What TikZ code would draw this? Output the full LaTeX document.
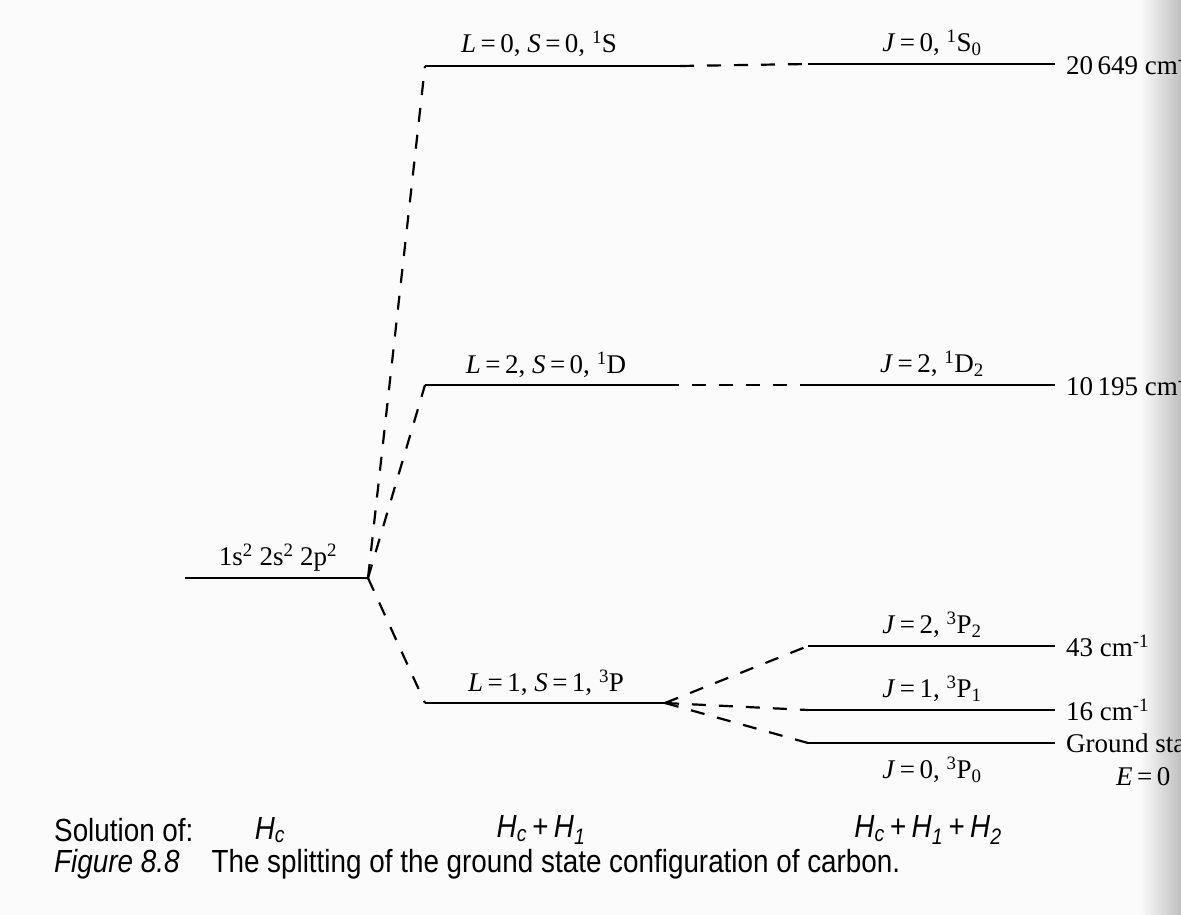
\documentclass[tikz,border=0pt]{standalone}
\usepackage{fontspec}
\setmainfont{Liberation Serif}
\newfontfamily\capfont{Liberation Sans}[FakeStretch=0.87]
\newcommand{\eqs}{\,=\,}
\begin{document}
\begin{tikzpicture}[x=1pt,y=-1pt,
  lvl/.style={line width=2.8pt},
  conn/.style={line width=2.2pt,dash pattern=on 14pt off 13pt},
  lab/.style={font=\fontsize{27}{30}\selectfont,inner sep=0pt},
  val/.style={font=\fontsize{27}{30}\selectfont,inner sep=0pt,anchor=west},
  sol/.style={font=\capfont\fontsize{32}{36}\selectfont,inner sep=0pt}]
\fill[white!97!gray] (0,0) rectangle (1181,915);
\useasboundingbox (0,0) rectangle (1181,915);
\clip (0,0) rectangle (1181,915);
\shade[left color=white!97!gray,right color=gray!50] (1140,0) rectangle (1181,915);
% configuration
\coordinate (c0) at (185,578);
\coordinate (c1) at (368,578);
\draw[lvl] (c0) -- (c1);
\node[lab] (cfg) at (278,558) {1s\textsuperscript{2} 2s\textsuperscript{2} 2p\textsuperscript{2}};
% L S levels
\coordinate (s0) at (425,66); \coordinate (s1) at (680,66);
\coordinate (d0) at (425,385); \coordinate (d1) at (665,385);
\coordinate (p0) at (425,703); \coordinate (p1) at (665,703);
\draw[lvl] (s0) -- (s1);
\draw[lvl] (d0) -- (d1);
\draw[lvl] (p0) -- (p1);
\node[lab] (ls) at (539,44) {\textit{L}\eqs0, \textit{S}\eqs0, \textsuperscript{1}S};
\node[lab] (ld) at (546,365) {\textit{L}\eqs2, \textit{S}\eqs0, \textsuperscript{1}D};
\node[lab] (lp) at (546,683) {\textit{L}\eqs1, \textit{S}\eqs1, \textsuperscript{3}P};
\draw[conn] (c1) -- (s0);
\draw[conn] (c1) -- (d0);
\draw[conn] (c1) -- (p0);
% J levels
\coordinate (js0) at (808,64); \coordinate (js1) at (1055,64);
\coordinate (jd0) at (808,385); \coordinate (jd1) at (1055,385);
\coordinate (jp20) at (808,646); \coordinate (jp21) at (1055,646);
\coordinate (jp10) at (808,710); \coordinate (jp11) at (1055,710);
\coordinate (jp00) at (808,743); \coordinate (jp01) at (1055,743);
\draw[lvl] (js0) -- (js1);
\draw[lvl] (jd0) -- (jd1);
\draw[lvl] (jp20) -- (jp21);
\draw[lvl] (jp10) -- (jp11);
\draw[lvl] (jp00) -- (jp01);
\draw[conn] (s1) -- (js0);
\draw[conn] (d1) -- (jd0);
\draw[conn] (p1) -- (jp20);
\draw[conn] (p1) -- (jp10);
\draw[conn] (p1) -- (jp00);
\node[lab] (lj0) at (932,43) {\textit{J}\eqs0, \textsuperscript{1}S\textsubscript{0}};
\node[lab] (lj2) at (932,364) {\textit{J}\eqs2, \textsuperscript{1}D\textsubscript{2}};
\node[lab] (lp2) at (932,625) {\textit{J}\eqs2, \textsuperscript{3}P\textsubscript{2}};
\node[lab] (lp1) at (932,689) {\textit{J}\eqs1, \textsuperscript{3}P\textsubscript{1}};
\node[lab] (lp0) at (932,770) {\textit{J}\eqs0, \textsuperscript{3}P\textsubscript{0}};
\node[val] (v1) at (1066,64) {20\,649 cm\textsuperscript{-1}};
\node[val] (v2) at (1066,385) {10\,195 cm\textsuperscript{-1}};
\node[val] (v3) at (1066,646) {43 cm\textsuperscript{-1}};
\node[val] (v4) at (1066,710) {16 cm\textsuperscript{-1}};
\node[val] (v5) at (1066,743) {Ground state};
\node[val] (v6) at (1116,777) {\textit{E}\eqs0};
% bottom
\node[sol,anchor=west] (so) at (54,830) {Solution of:};
\node[sol] (h1) at (270,830) {\textit{H}\textsubscript{\textit{c}}};
\node[sol] (h2) at (541,830) {\textit{H}\textsubscript{\textit{c}}\,+\,\textit{H}\textsubscript{\textit{1}}};
\node[sol] (h3) at (928,830) {\textit{H}\textsubscript{\textit{c}}\,+\,\textit{H}\textsubscript{\textit{1}}\,+\,\textit{H}\textsubscript{\textit{2}}};
\node[sol,anchor=west] (cap) at (54,864) {\textit{Figure 8.8}\quad The splitting of the ground state configuration of carbon.};
\end{tikzpicture}
\end{document}
